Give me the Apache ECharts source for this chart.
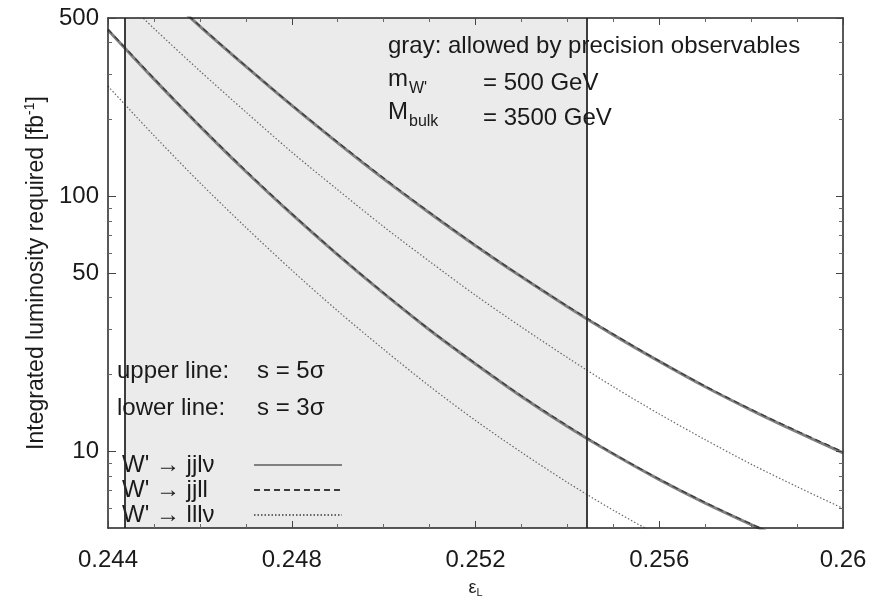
<!DOCTYPE html>
<html>
<head>
<meta charset="utf-8">
<script src="https://cdn.jsdelivr.net/npm/echarts@6/dist/echarts.min.js"></script>
<style>html,body{margin:0;padding:0;background:#fff}#c{width:885px;height:603px}</style>
</head>
<body>
<div id="c"></div>
<script>
// ---- data ----
var epsilon = [0.244, 0.245, 0.246, 0.247, 0.248, 0.249, 0.250, 0.251, 0.252, 0.253, 0.254, 0.255, 0.256, 0.257, 0.258, 0.259, 0.260];
var jjlv5 = [1003, 678, 464, 323, 227, 162, 117, 86, 64, 48.3, 36.9, 28.6, 22.5, 17.9, 14.5, 11.9, 9.86];
var jjll5 = [1010, 682, 466, 324, 228, 163, 118, 86.5, 64.3, 48.5, 37.1, 28.8, 22.6, 18.0, 14.6, 12.0, 9.95];
var lllv5 = [678, 455, 310, 214, 149, 106, 76, 55.5, 40.9, 30.7, 23.3, 17.9, 14.0, 11.1, 8.9, 7.26, 5.97];
var jjlv3 = [449, 288, 188, 125, 85, 58.9, 41.6, 29.9, 22.0, 16.4, 12.5, 9.75, 7.74, 6.26, 5.16, 4.3, 3.6];
var jjll3 = [452, 290, 189, 126, 85.5, 59.2, 41.8, 30.0, 22.1, 16.5, 12.6, 9.8, 7.78, 6.3, 5.19, 4.33, 3.65];
var lllv3 = [270, 173, 113, 75.5, 51.3, 35.5, 25.1, 18.0, 13.2, 9.9, 7.55, 5.87, 4.67, 3.8, 3.1, 2.6, 2.2];
var precisionBounds = [0.24437, 0.25443];
var xTicks = [0.244, 0.248, 0.252, 0.256, 0.26];
var yLabels = [10, 50, 100, 500];
var yMinorTicks = [6, 7, 8, 9, 20, 30, 40, 60, 70, 80, 90, 200, 300, 400];
var names = ["W' \u2192 jjl\u03bd", "W' \u2192 jjll", "W' \u2192 lll\u03bd"];

function pairs(vals) { return epsilon.map(function (e, i) { return [e, vals[i]]; }); }

var FONT = 'Liberation Sans, Arial, Helvetica, sans-serif';
var FS = 24;
var chart = echarts.init(document.getElementById('c'), null, { renderer: 'canvas' });

var solidStyle = { color: '#808080', width: 3, type: 'solid' };
var dashStyle = { color: '#3a3a3a', width: 1.3, type: [6, 4] };
var dotStyle = { color: '#666', width: 1.2, type: [1.5, 2] };

function line(name, vals, style, extra) {
  var s = {
    name: name, type: 'line', data: pairs(vals), symbol: 'none', smooth: 0.3,
    lineStyle: style, itemStyle: { color: style.color }, silent: true, animation: false,
    xAxisIndex: 0, yAxisIndex: 0, z: 3
  };
  if (extra) for (var k in extra) s[k] = extra[k];
  return s;
}

var T = '#1a1a1a';
var F = FS + 'px ' + FONT;
var option = {
  backgroundColor: '#fff',
  animation: false,
  textStyle: { fontFamily: FONT },
  grid: { left: 108, right: 42, top: 18, bottom: 70, containLabel: false },
  legend: {
    left: 117, top: 448, orient: 'vertical', align: 'right',
    itemWidth: 88, itemHeight: 14, itemGap: 1, selectedMode: false,
    itemStyle: { opacity: 0, borderWidth: 0, color: 'rgba(0,0,0,0)' },
    textStyle: { fontFamily: FONT, fontSize: FS, color: T,
      rich: { t: { width: 127, align: 'left', fontSize: FS, lineHeight: 25, color: T, fontFamily: FONT } } },
    formatter: function (n) { return '{t|' + n + '}'; },
    data: names
  },
  xAxis: [{
    type: 'value', position: 'bottom', min: 0.244, max: 0.26, interval: 0.004, z: 5,
    axisLine: { show: true, onZero: false, lineStyle: { color: '#222', width: 1.5 } },
    axisTick: { show: true, inside: true, length: 7, lineStyle: { color: '#444' } },
    minorTick: { show: true, splitNumber: 4, length: 4, lineStyle: { color: '#666' } },
    splitLine: { show: false },
    axisLabel: { fontSize: FS, color: T, margin: 20, fontFamily: FONT,
      customValues: xTicks, formatter: function (v) { return String(+v.toFixed(3)); } },
    name: '{e|\u03b5}{s|L}', nameLocation: 'middle', nameGap: 50,
    nameTextStyle: { rich: { e: { fontSize: 18, color: T, fontFamily: FONT }, s: { fontSize: 11, color: T, padding: [9, 0, 0, 0], fontFamily: FONT } } }
  }, {
    type: 'value', position: 'top', min: 0.244, max: 0.26, interval: 0.004, z: 5,
    axisLine: { show: true, onZero: false, lineStyle: { color: '#222', width: 1.5 } },
    axisTick: { show: true, inside: true, length: 7, lineStyle: { color: '#444' } },
    minorTick: { show: true, splitNumber: 4, length: 4, lineStyle: { color: '#666' } },
    splitLine: { show: false }, axisLabel: { show: false }
  }],
  yAxis: [{
    type: 'log', logBase: 10, position: 'left', min: 5, max: 500, z: 5,
    axisLine: { show: true, onZero: false, lineStyle: { color: '#222', width: 1.5 } },
    axisTick: { show: true, inside: true, length: 8, customValues: yLabels, lineStyle: { color: '#444' } },
    splitLine: { show: false },
    axisLabel: { fontSize: FS, color: T, margin: 9, fontFamily: FONT, customValues: yLabels },
    name: 'Integrated luminosity required [fb{sup|-1}]', nameLocation: 'middle', nameGap: 55,
    nameTextStyle: { fontSize: 23, color: T, fontFamily: FONT,
      rich: { sup: { fontSize: 14, color: T, padding: [0, 0, 12, 0], fontFamily: FONT } } }
  }, {
    type: 'log', logBase: 10, position: 'left', min: 5, max: 500, z: 5,
    axisLine: { show: false },
    axisTick: { show: true, inside: true, length: 4, customValues: yMinorTicks, lineStyle: { color: '#666' } },
    splitLine: { show: false }, axisLabel: { show: false }
  }, {
    type: 'log', logBase: 10, position: 'right', min: 5, max: 500, z: 5,
    axisLine: { show: true, onZero: false, lineStyle: { color: '#222', width: 1.5 } },
    axisTick: { show: true, inside: true, length: 7, customValues: yLabels, lineStyle: { color: '#444' } },
    splitLine: { show: false }, axisLabel: { show: false }
  }, {
    type: 'log', logBase: 10, position: 'right', min: 5, max: 500, z: 5,
    axisLine: { show: false },
    axisTick: { show: true, inside: true, length: 4, customValues: yMinorTicks, lineStyle: { color: '#666' } },
    splitLine: { show: false }, axisLabel: { show: false }
  }],
  series: [
    line(names[0], jjlv5, solidStyle, {
      markArea: { silent: true, itemStyle: { color: '#ebebeb' },
        data: [[{ xAxis: precisionBounds[0] }, { xAxis: precisionBounds[1] }]] },
      markLine: { silent: true, symbol: 'none', precision: 6, label: { show: false },
        lineStyle: { color: '#2a2a2a', width: 1.8, type: 'solid' },
        data: [{ xAxis: precisionBounds[0] }, { xAxis: precisionBounds[1] }] }
    }),
    line(names[0], jjlv3, solidStyle),
    line(names[1], jjll5, dashStyle),
    line(names[1], jjll3, dashStyle),
    line(names[2], lllv5, dotStyle),
    line(names[2], lllv3, dotStyle)
  ],
  graphic: [
    { type: 'text', left: 388, top: 34, z: 10, style: { text: 'gray: allowed by precision observables', font: F, fill: T } },
    { type: 'text', left: 388, top: 67, z: 10, style: { text: '{a|m}{s|W\'}', fill: T,
        rich: { a: { font: F, fill: T }, s: { font: '16px ' + FONT, fill: T, padding: [20, 0, 0, 1] } } } },
    { type: 'text', left: 483, top: 71, z: 10, style: { text: '= 500 GeV', font: F, fill: T } },
    { type: 'text', left: 388, top: 100, z: 10, style: { text: '{a|M}{s|bulk}', fill: T,
        rich: { a: { font: F, fill: T }, s: { font: '16px ' + FONT, fill: T, padding: [20, 0, 0, 1] } } } },
    { type: 'text', left: 483, top: 106, z: 10, style: { text: '= 3500 GeV', font: F, fill: T } },
    { type: 'text', left: 117, top: 359, z: 10, style: { text: 'upper line:', font: F, fill: T } },
    { type: 'text', left: 257, top: 359, z: 10, style: { text: 's = 5\u03c3', font: F, fill: T } },
    { type: 'text', left: 117, top: 396, z: 10, style: { text: 'lower line:', font: F, fill: T } },
    { type: 'text', left: 257, top: 396, z: 10, style: { text: 's = 3\u03c3', font: F, fill: T } }
  ]
};
chart.setOption(option);
</script>
</body>
</html>
